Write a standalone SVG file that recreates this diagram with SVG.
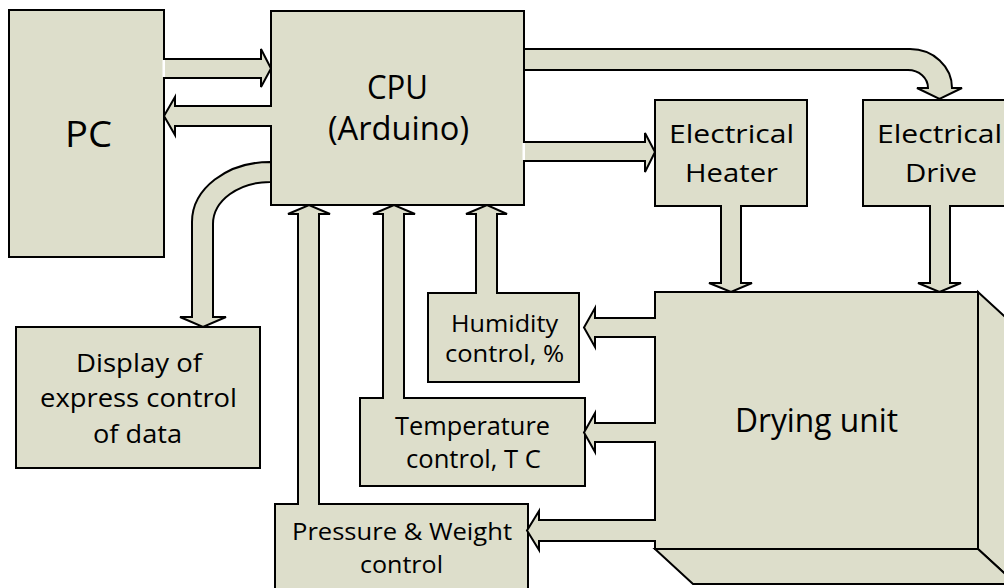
<svg xmlns="http://www.w3.org/2000/svg" width="1004" height="588" viewBox="0 0 1004 588">
<style>
.box{fill:#dddecb;stroke:#000;stroke-width:2}
.ar{fill:#dddecb;stroke:#000;stroke-width:2;stroke-linejoin:miter}
.t{font-family:"Open Sans","Liberation Sans",sans-serif;fill:#000;text-anchor:middle}
</style>
<rect width="1004" height="588" fill="#fff"/>
<g id="pc"><rect class="box" x="9" y="10" width="155" height="247"/><text class="t" x="88.5" y="147" font-size="37" textLength="47" lengthAdjust="spacingAndGlyphs">PC</text></g>
<g id="cpu"><rect class="box" x="271" y="11" width="253" height="194"/><text class="t" x="397.5" y="99" font-size="32" textLength="61" lengthAdjust="spacingAndGlyphs">CPU</text><text class="t" x="398.5" y="140" font-size="32" textLength="141" lengthAdjust="spacingAndGlyphs">(Arduino)</text></g>
<g id="heater"><rect class="box" x="655" y="100" width="152" height="106"/><text class="t" x="731.5" y="143" font-size="26" textLength="125" lengthAdjust="spacingAndGlyphs">Electrical</text><text class="t" x="731.5" y="182" font-size="26" textLength="93" lengthAdjust="spacingAndGlyphs">Heater</text></g>
<g id="drive"><rect class="box" x="863" y="100" width="152" height="106"/><text class="t" x="939.5" y="143" font-size="26" textLength="125" lengthAdjust="spacingAndGlyphs">Electrical</text><text class="t" x="941" y="182" font-size="26" textLength="72" lengthAdjust="spacingAndGlyphs">Drive</text></g>
<g id="display"><rect class="box" x="16" y="327" width="244" height="141"/><text class="t" x="139" y="372" font-size="25" textLength="126" lengthAdjust="spacingAndGlyphs">Display of</text><text class="t" x="138.5" y="407" font-size="25" textLength="197" lengthAdjust="spacingAndGlyphs">express control</text><text class="t" x="137.5" y="443" font-size="25" textLength="89" lengthAdjust="spacingAndGlyphs">of data</text></g>
<g id="humidity"><rect class="box" x="428" y="293" width="151" height="89"/><text class="t" x="504.5" y="332" font-size="24" textLength="107" lengthAdjust="spacingAndGlyphs">Humidity</text><text class="t" x="504.5" y="362" font-size="24" textLength="119" lengthAdjust="spacingAndGlyphs">control, %</text></g>
<g id="temperature"><rect class="box" x="360" y="398" width="225" height="88"/><text class="t" x="472.5" y="435" font-size="25" textLength="155" lengthAdjust="spacingAndGlyphs">Temperature</text><text class="t" x="473.5" y="468" font-size="25" textLength="135" lengthAdjust="spacingAndGlyphs">control, T C</text></g>
<g id="pressure"><rect class="box" x="275" y="504" width="253" height="92"/><text class="t" x="402" y="540" font-size="24" textLength="220" lengthAdjust="spacingAndGlyphs">Pressure &amp; Weight</text><text class="t" x="401.5" y="573" font-size="24" textLength="83" lengthAdjust="spacingAndGlyphs">control</text></g>
<g id="drying">
<polygon class="box" points="978,292 1016,327 1016,584 978,549"/>
<polygon class="box" points="655,549 978,549 1016,584 693,584"/>
<rect class="box" x="655" y="292" width="323" height="257"/>
<text class="t" x="816.5" y="432" font-size="32" textLength="163" lengthAdjust="spacingAndGlyphs">Drying unit</text>
</g>
<g id="connectors">
<path class="ar" d="M165,59 L261,59 L261,49 L271,68.5 L261,87 L261,78 L165,78"/>
<rect x="162.5" y="60" width="2.5" height="17" fill="#fff"/>
<path class="ar" d="M272,106 L175,106 L175,97 L164,116 L175,135 L175,126 L272,126"/>
<path class="ar" d="M271,162 L270,162 A78,60 0 0 0 192,222 L192,317 L180,317 L203,327 L226,317 L213,317 L213,224 A57,42 0 0 1 270,182 L271,182 Z"/>
<path class="ar" d="M524,142 L645,142 L645,133 L655,152 L645,172 L645,161 L524,161"/>
<rect x="522.5" y="143" width="2.5" height="17" fill="#fff"/>
<path class="ar" d="M524,49 L910,49 A42,39 0 0 1 952,88 L962,88 L939.5,99 L917,88 L928,88 A20,18 0 0 0 908,70 L524,70 Z"/>
<path class="ar" d="M721,205 L721,283 L709,283 L731,292 L752,283 L741,283 L741,205"/>
<path class="ar" d="M930,205 L930,283 L918,283 L939.5,292 L961,283 L950,283 L950,205"/>
<path class="ar" d="M656,318 L595,318 L595,308 L584,327.5 L595,347 L595,337 L656,337"/>
<path class="ar" d="M656,423 L595,423 L595,413 L584,432.5 L595,452 L595,442 L656,442"/>
<path class="ar" d="M656,520 L539,520 L539,511 L527,530.5 L539,550 L539,541 L656,541"/>
<path class="ar" d="M298,505 L298,214 L288,214 L309,205 L330,214 L319,214 L319,505"/>
<path class="ar" d="M383,399 L383,214 L373,214 L394,205 L415,214 L404,214 L404,399"/>
<path class="ar" d="M476,294 L476,214 L466,214 L487,205 L507,214 L497,214 L497,294"/>
</g>
</svg>
